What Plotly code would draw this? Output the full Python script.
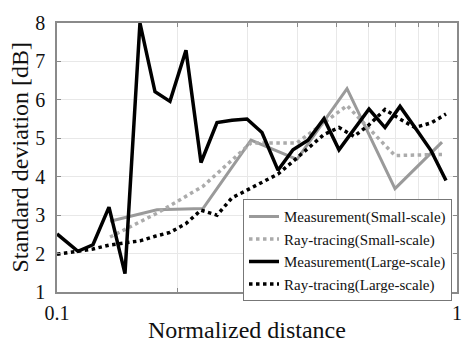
import plotly.graph_objects as go

# Large-scale distance samples (normalized distance)
x_large = [0.1, 0.1128, 0.1230, 0.1349, 0.1479, 0.1612, 0.1758, 0.1916, 0.2101,
           0.2291, 0.2512, 0.2738, 0.2985, 0.3254, 0.3568, 0.3890, 0.4241, 0.4650,
           0.5070, 0.5528, 0.6026, 0.6607, 0.7204, 0.7852, 0.8610, 0.9387]
meas_large = [2.51, 2.06, 2.23, 3.21, 1.48, 8.0, 6.21, 5.96, 7.29, 4.37, 5.41, 5.47,
              5.50, 5.15, 4.17, 4.70, 4.95, 5.51, 4.70, 5.23, 5.76, 5.28, 5.83, 5.28,
              4.68, 3.90]
ray_large = [1.98, 2.05, 2.12, 2.22, 2.28, 2.33, 2.45, 2.55, 2.78, 3.13, 3.0, 3.45,
             3.65, 3.85, 4.07, 4.4, 4.75, 5.1, 5.28, 5.05, 5.35, 5.75, 5.5, 5.28,
             5.4, 5.63]

# Small-scale distance samples
x_small = [0.1357, 0.1778, 0.2317, 0.3055, 0.3981, 0.5309, 0.6998, 0.9173]
meas_small = [2.84, 3.14, 3.17, 4.95, 4.45, 6.29, 3.69, 4.90]
ray_small = [2.43, 3.05, 3.75, 4.88, 4.88, 5.85, 4.55, 4.58]

x_tickvals = [0.1, 0.2, 0.3, 0.4, 0.5, 0.6, 0.7, 0.8, 0.9, 1]
x_ticktext = ["0.1", "", "", "", "", "", "", "", "", "1"]
y_tickvals = [1, 2, 3, 4, 5, 6, 7, 8]

serif = "Liberation Serif"

fig = go.Figure()
fig.add_trace(go.Scatter(x=x_small, y=meas_small, mode="lines",
                         name="Measurement(Small-scale)",
                         line=dict(color="#9a9a9a", width=3)))
fig.add_trace(go.Scatter(x=x_small, y=ray_small, mode="lines",
                         name="Ray-tracing(Small-scale)",
                         line=dict(color="#ababab", width=3.5, dash="dot")))
fig.add_trace(go.Scatter(x=x_large, y=meas_large, mode="lines",
                         name="Measurement(Large-scale)",
                         line=dict(color="#000000", width=3.5)))
fig.add_trace(go.Scatter(x=x_large, y=ray_large, mode="lines",
                         name="Ray-tracing(Large-scale)",
                         line=dict(color="#000000", width=3.5, dash="dot")))

fig.update_layout(
    width=474, height=347,
    margin=dict(l=57, r=17, t=14, b=55),
    plot_bgcolor="white", paper_bgcolor="white",
    font=dict(family=serif, color="#111111", size=19),
    showlegend=True,
    legend=dict(x=0.465, y=0.345, xanchor="left", yanchor="top",
                bgcolor="white", bordercolor="#777777", borderwidth=1,
                font=dict(family=serif, size=15, color="#111111"),
                tracegroupgap=0, itemwidth=30),
    annotations=[
        dict(text="Normalized distance", x=0.475, y=-0.085, xref="paper", yref="paper",
             xanchor="center", yanchor="top", showarrow=False,
             font=dict(family=serif, size=24, color="#111111")),
        dict(text="Standard deviation [dB]", x=-0.095, y=0.5, xref="paper", yref="paper",
             xanchor="center", yanchor="middle", showarrow=False, textangle=-90,
             font=dict(family=serif, size=24, color="#111111")),
    ],
)

fig.update_xaxes(type="log", range=[-1, 0], tickvals=x_tickvals, ticktext=x_ticktext,
                 showgrid=True, gridcolor="#e8e8e8", gridwidth=1,
                 showline=True, linecolor="#8a8a8a", linewidth=1.5, mirror="ticks",
                 ticks="inside", ticklen=4, tickcolor="#8a8a8a",
                 zeroline=False, tickfont=dict(family=serif, size=20, color="#111111"),
                 ticklabelstandoff=2)
fig.update_yaxes(range=[1, 8], tickvals=y_tickvals,
                 showgrid=True, gridcolor="#e8e8e8", gridwidth=1,
                 showline=True, linecolor="#8a8a8a", linewidth=1.5, mirror="ticks",
                 ticks="inside", ticklen=4, tickcolor="#8a8a8a",
                 zeroline=False, tickfont=dict(family=serif, size=20, color="#111111"),
                 ticklabelstandoff=6)

fig.write_html("out.html")
